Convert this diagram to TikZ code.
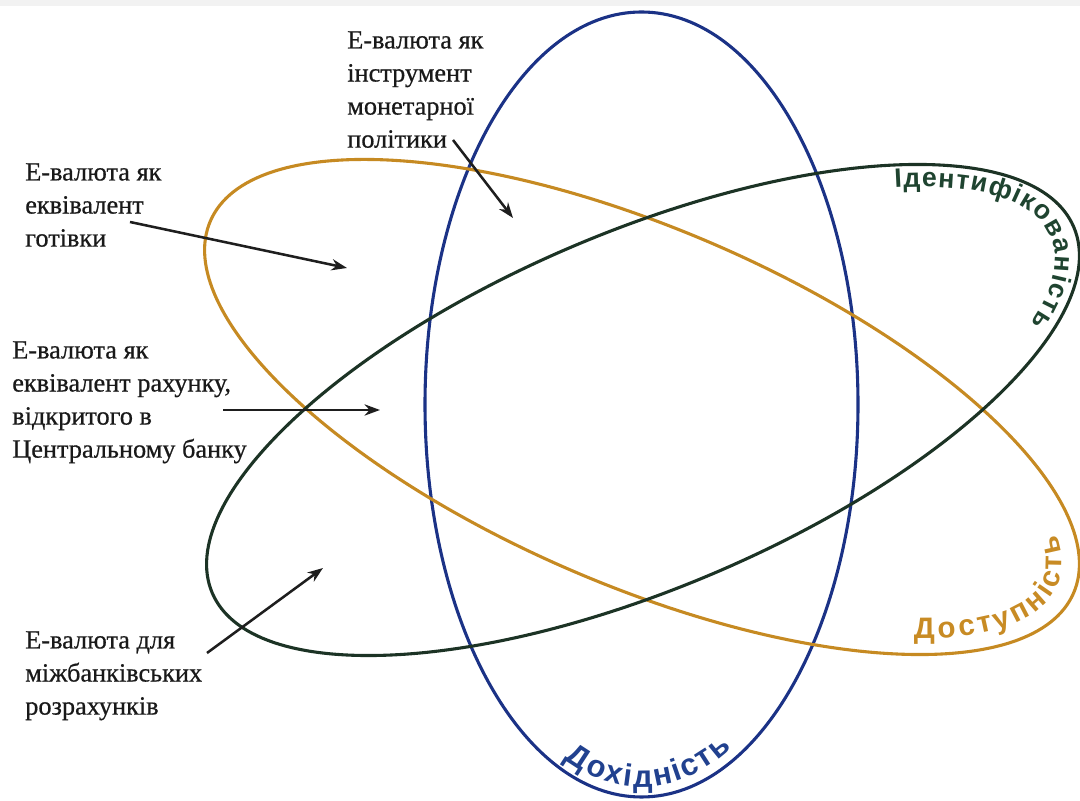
\documentclass[tikz,border=0pt]{standalone}
\usepackage{fontspec}
\setmainfont[FakeBold=0.6]{Liberation Serif}
\newfontfamily\curvefont{Liberation Sans}
\usetikzlibrary{decorations.text,arrows.meta}
\definecolor{bluec}{HTML}{1B3286}
\definecolor{orangec}{HTML}{C68A22}
\definecolor{greenc}{HTML}{1C3325}
\definecolor{bluet}{HTML}{21418F}
\definecolor{oranget}{HTML}{C88B24}
\definecolor{greent}{HTML}{1F4430}
\definecolor{arrowc}{HTML}{1E1E1E}
\begin{document}
\begin{tikzpicture}[x=0.025cm,y=0.025cm,
  ring/.style={line width=2.2pt},
  lbl/.style={anchor=north west,inner sep=0pt,align=left,font=\fontsize{18.7}{23.5}\selectfont,text=black!90},
  pointer/.style={draw=arrowc,line width=1.8pt,-{Stealth[length=11pt,width=8pt]}},
  curvetext/.style={decorate,decoration={text along path,text align={fit to path},text color=#1}}
]
\useasboundingbox (0,0) rectangle (1080,801);
\fill[black!5] (0,795) rectangle (1080,801);

% blue ellipse
\begin{scope}[shift={(641.5,396.5)}]
  \draw[ring,bluec] (0,0) ellipse [x radius=216.5, y radius=392.5];
  \path[curvetext=bluet,decoration={text={|\curvefont\bfseries\fontsize{22}{22}\selectfont|Дохідність}}]
    (248:206.5 and 382.5) arc [start angle=248,end angle=296,x radius=206.5,y radius=382.5];
\end{scope}

% orange ellipse
\begin{scope}[shift={(642,394)},rotate=-23.3]
  \draw[ring,orangec] (0,0) ellipse [x radius=470, y radius=178];
  \path[curvetext=oranget,decoration={text={|\curvefont\bfseries\fontsize{21}{21}\selectfont|Доступність}}]
    (-41:452 and 160) arc [start angle=-41,end angle=17,x radius=452,y radius=160];
\end{scope}

% green ellipse
\begin{scope}[shift={(643,391)},rotate=23]
  \draw[ring,greenc] (0,0) ellipse [x radius=468, y radius=178];
  \path[curvetext=greent,decoration={text={|\curvefont\bfseries\fontsize{19}{19}\selectfont|Ідентифікованість}}]
    (44:443 and 153) arc [start angle=44,end angle=-28,x radius=443,y radius=153];
\end{scope}

% labels
\node[lbl] (l1) at (347,770) {E-валюта як\\інструмент\\монетарної\\політики};
\node[lbl] (l2) at (25,638) {E-валюта як\\еквівалент\\готівки};
\node[lbl] (l3) at (12,460) {E-валюта як\\еквівалент рахунку,\\відкритого в\\Центральному банку};
\node[lbl] (l4) at (25,170) {E-валюта для\\міжбанківських\\розрахунків};

% arrows
\coordinate (a1s) at (453,661); \coordinate (a1e) at (513,583);
\coordinate (a2s) at (130,579); \coordinate (a2e) at (347,533);
\coordinate (a3s) at (223,391); \coordinate (a3e) at (380,391);
\coordinate (a4s) at (207,148); \coordinate (a4e) at (323,233);
\draw[pointer] (a1s) -- (a1e);
\draw[pointer] (a2s) -- (a2e);
\draw[pointer] (a3s) -- (a3e);
\draw[pointer] (a4s) -- (a4e);
\end{tikzpicture}
\end{document}
